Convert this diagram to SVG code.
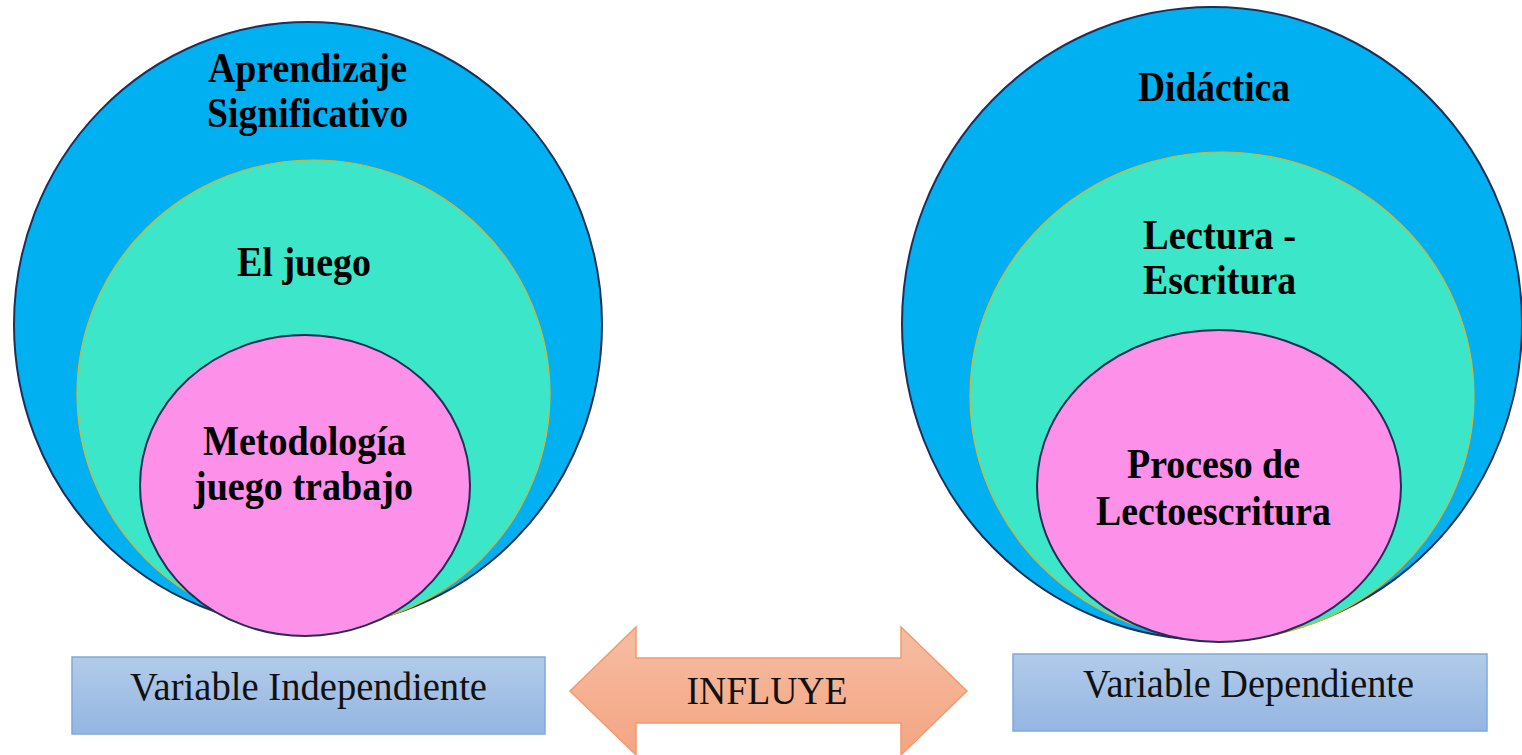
<svg xmlns="http://www.w3.org/2000/svg" width="1522" height="755" viewBox="0 0 1522 755">
<style>
.outer{fill:#00B0F0;stroke:#1F2F55;stroke-width:2}
.mid{fill:#3CE6C8;stroke:#D9B62A;stroke-width:1.2}
.inner{fill:#FD90E8;stroke:#1F2F55;stroke-width:2}
.lbl{font-family:"Liberation Serif","Times New Roman",serif;font-weight:bold;font-size:42px;fill:#000}
.box{fill:url(#boxg);stroke:#7FA9DC;stroke-width:1.5}
.btxt{font-family:"Liberation Serif","Times New Roman",serif;font-size:40px;fill:#111}
</style>
<defs>
<linearGradient id="boxg" x1="0" y1="0" x2="0" y2="1">
<stop offset="0" stop-color="#B2CBE9"/>
<stop offset="1" stop-color="#94B6E2"/>
</linearGradient>
<linearGradient id="arrg" x1="0" y1="0" x2="0" y2="1">
<stop offset="0" stop-color="#F6BDA2"/>
<stop offset="1" stop-color="#F4A582"/>
</linearGradient>
</defs>
<g id="left-outer">
<ellipse class="outer" cx="308" cy="324.5" rx="294" ry="302.5"/>
<text class="lbl" x="307.5" y="82" text-anchor="middle" textLength="199" lengthAdjust="spacingAndGlyphs">Aprendizaje</text>
<text class="lbl" x="307.5" y="127" text-anchor="middle" textLength="201" lengthAdjust="spacingAndGlyphs">Significativo</text>
</g>
<g id="left-mid">
<ellipse class="mid" cx="313.5" cy="394" rx="236.5" ry="234"/>
<text class="lbl" x="304" y="276" text-anchor="middle" textLength="134" lengthAdjust="spacingAndGlyphs">El juego</text>
</g>
<g id="left-inner">
<ellipse class="inner" cx="305" cy="485.5" rx="165" ry="150.5"/>
<text class="lbl" x="304.5" y="455" text-anchor="middle" textLength="203" lengthAdjust="spacingAndGlyphs">Metodología</text>
<text class="lbl" x="303.5" y="500" text-anchor="middle" textLength="219" lengthAdjust="spacingAndGlyphs">juego trabajo</text>
</g>
<g id="right-outer">
<ellipse class="outer" cx="1212" cy="323.5" rx="310" ry="316.5"/>
<text class="lbl" x="1214" y="101" text-anchor="middle" textLength="152" lengthAdjust="spacingAndGlyphs">Didáctica</text>
</g>
<g id="right-mid">
<ellipse class="mid" cx="1222" cy="396" rx="252" ry="244"/>
<text class="lbl" x="1219.5" y="249" text-anchor="middle" textLength="153" lengthAdjust="spacingAndGlyphs">Lectura -</text>
<text class="lbl" x="1219.5" y="294" text-anchor="middle" textLength="153" lengthAdjust="spacingAndGlyphs">Escritura</text>
</g>
<g id="right-inner">
<ellipse class="inner" cx="1219" cy="486" rx="182" ry="156"/>
<text class="lbl" x="1213.5" y="478" text-anchor="middle" textLength="173" lengthAdjust="spacingAndGlyphs">Proceso de</text>
<text class="lbl" x="1213.5" y="525" text-anchor="middle" textLength="235" lengthAdjust="spacingAndGlyphs">Lectoescritura</text>
</g>
<g id="box-independiente">
<rect class="box" x="72" y="657" width="473" height="77"/>
<text class="btxt" x="308.5" y="700" text-anchor="middle" textLength="357" lengthAdjust="spacingAndGlyphs">Variable Independiente</text>
</g>
<g id="box-dependiente">
<rect class="box" x="1013" y="654" width="474" height="77"/>
<text class="btxt" x="1248.5" y="697" text-anchor="middle" textLength="331" lengthAdjust="spacingAndGlyphs">Variable Dependiente</text>
</g>
<g id="connectors">
<g id="influye">
<path d="M570,691 L636,627 L636,658 L901,658 L901,627 L967,691 L901,755 L901,723 L636,723 L636,755 Z" fill="url(#arrg)" stroke="#F19A6C" stroke-width="1.5" stroke-linejoin="miter"/>
<text class="btxt" x="767" y="704" text-anchor="middle" textLength="161" lengthAdjust="spacingAndGlyphs">INFLUYE</text>
</g>
</g>
</svg>
